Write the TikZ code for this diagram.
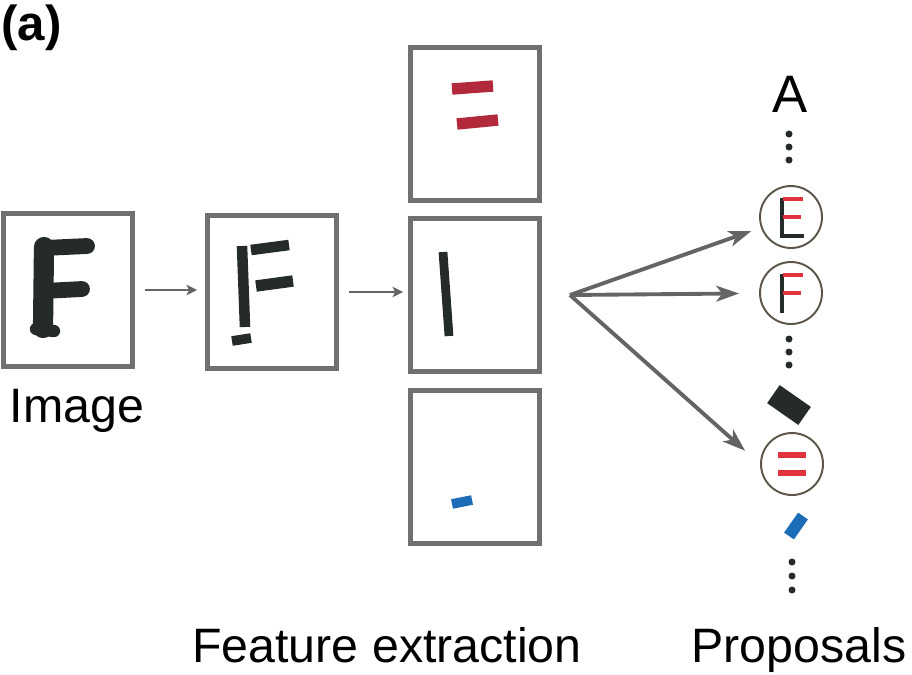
\documentclass[tikz,border=0pt]{standalone}
\usepackage{fontspec}
\setmainfont{Liberation Sans}
\usetikzlibrary{positioning,arrows.meta}
\definecolor{boxgray}{HTML}{707070}
\definecolor{arrowgray}{HTML}{646464}
\definecolor{inkblack}{HTML}{252a2a}
\definecolor{featred}{HTML}{B3293C}
\definecolor{propred}{HTML}{E2323E}
\definecolor{featblue}{HTML}{1B6DB8}
\definecolor{ringbrown}{HTML}{5C5548}

\begin{document}
\begin{tikzpicture}[x=0.02cm,y=-0.02cm,
        fbox/.style={draw=boxgray,line width=2.8pt,minimum width=2.58cm,minimum height=3.06cm,inner sep=0pt},
        ring/.style={draw=ringbrown,line width=1.1pt,circle,minimum size=1.24cm,inner sep=0pt},
        stroke/.style={line width=#1,line cap=butt},
        caption/.style={anchor=base,inner sep=0pt,font=\fontsize{27.5}{32}\selectfont},
        thinarrow/.style={draw=arrowgray,line width=0.9pt,-{Stealth[length=6pt,width=6pt,inset=1.5pt]}},
        bigarrow/.style={draw=arrowgray,line width=2.2pt,-{Stealth[length=13pt,width=9pt,inset=3.5pt]}}]
                \useasboundingbox (0,0) rectangle (912,674);
                \node[anchor=north west,inner sep=0pt,font=\bfseries\fontsize{28}{32}\selectfont] (panel) at (1,4) {(a)};
                \node[fbox] (img) at (68,290) {};
                \node[fbox] (split) at (272,292) {};
                \node[fbox] (featmid) at (475,295) {};
                \node[fbox] (feattop) at (475,124) {};
                \node[fbox] (featbot) at (475,467) {};
                \node[caption] (imgcap) at (77,422) {Image};
                \node[caption] (featcap) at (387,662) {Feature extraction};
                \node[caption] (propcap) at (799,662) {Proposals};
                \draw[inkblack,line width=11.5pt,line cap=round] (44,247) -- (43,328);
                \draw[inkblack,line width=9pt,line cap=round] (44,248) -- (87,246);
                \draw[inkblack,line width=9pt,line cap=round] (44,291) -- (82,289);
                \draw[inkblack,line width=7pt,line cap=round] (36,329) -- (54,331);
                \draw[inkblack,stroke=6pt] (242,246) -- (245,327);
                \draw[inkblack,stroke=6pt] (251,250) -- (289,245);
                \draw[inkblack,stroke=6.5pt] (256,286) -- (293,281);
                \draw[inkblack,stroke=5.5pt] (232,341) -- (251,338);
                \draw[featred,stroke=6.5pt] (452,89) -- (493,86);
                \draw[featred,stroke=6.5pt] (457,124) -- (498,120);
                \draw[inkblack,stroke=5pt] (443,252) -- (449,336);
                \draw[featblue,stroke=5.5pt] (452,504) -- (472,500);
                \draw[thinarrow,shorten <=0.2cm,shorten >=0.16cm] (img.east) -- (img.east -| split.west);
                \draw[thinarrow,shorten <=0.2cm,shorten >=0.1cm] (split.east) -- (split.east -| featmid.west);
                \node[inner sep=0pt,font=\fontsize{30}{34}\selectfont] (letA) at (790,94) {A};
                \node[ring] (pE) at (791,217) {};
                \node[ring] (pF) at (791,293) {};
                \node[ring] (pEq) at (792,464) {};
                \foreach \y in {134,147,160}
                    \fill[inkblack] (789,\y) circle[radius=0.07cm];
                \foreach \y in {339,352,365}
                    \fill[inkblack] (789,\y) circle[radius=0.07cm];
                \foreach \y in {562,576,590}
                    \fill[inkblack] (792,\y) circle[radius=0.07cm];
                \begin{scope}[shift={(pE)}]
                    \draw[inkblack,stroke=2.3pt] (-9,-19) -- (-9,19) -- (13,19);
                    \draw[propred,stroke=2.3pt] (-8,-18) -- (12,-18);
                    \draw[propred,stroke=2.3pt] (-8,0) -- (10,0);
                \end{scope}
                \begin{scope}[shift={(pF)}]
                    \draw[inkblack,stroke=2.3pt] (-9,-19) -- (-9,20);
                    \draw[propred,stroke=2.3pt] (-8,-18) -- (12,-18);
                    \draw[propred,stroke=2.3pt] (-8,0) -- (10,0);
                \end{scope}
                \begin{scope}[shift={(pEq)}]
                    \draw[propred,stroke=3pt] (-14,-9) -- (14,-9);
                    \draw[propred,stroke=3pt] (-14,9) -- (14,9);
                \end{scope}
                \draw[inkblack,stroke=12.5pt] (773.4,394.1) -- (804.6,415.9);
                \draw[featblue,stroke=6.8pt] (789,536) -- (803,516);
                \coordinate (fork) at (570,295);
                \draw[bigarrow,shorten >=0.2cm] (fork) -- (pE);
                \draw[bigarrow,shorten >=0.4cm] (fork) -- (pF);
                \draw[bigarrow,shorten >=0.4cm] (fork) -- (pEq.west);
            \end{tikzpicture}
\end{document}
